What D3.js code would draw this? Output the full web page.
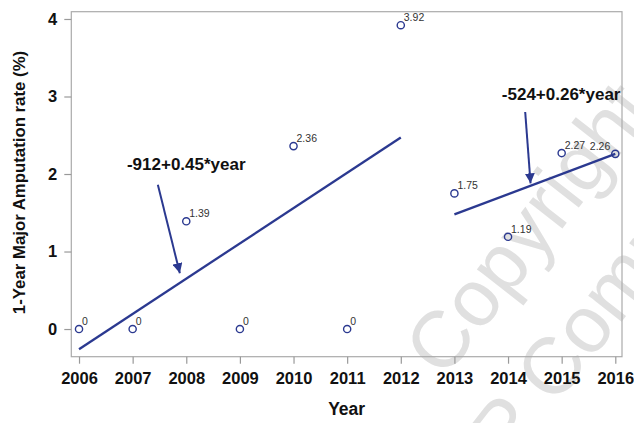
<!DOCTYPE html>
<html>
<head>
<meta charset="utf-8">
<script src="https://cdn.jsdelivr.net/npm/d3@7"></script>
<style>
  body { margin: 0; background: #fff; }
  svg { display: block; font-family: "Liberation Sans", Arial, sans-serif; }
</style>
</head>
<body>
<svg id="chart" width="634" height="423"></svg>
<script>
const years = [2006, 2007, 2008, 2009, 2010, 2011, 2012, 2013, 2014, 2015, 2016];
const rates = [0, 0, 1.39, 0, 2.36, 0, 3.92, 1.75, 1.19, 2.27, 2.26];
const rateLabels = ['0', '0', '1.39', '0', '2.36', '0', '3.92', '1.75', '1.19', '2.27', '2.26'];

// fitted segments
const fit1Years = [2006, 2012];
const fit1Values = [-0.26, 2.47];
const fit2Years = [2013, 2016];
const fit2Values = [1.48, 2.26];

const eqLabels = ['-912+0.45*year', '-524+0.26*year'];
const eqLabelYears = [2008.0, 2014.99];
const eqLabelValues = [2.05, 2.955];
const arrowFromYears = [2007.47, 2014.32];
const arrowFromValues = [1.86, 2.80];
const arrowToYears = [2007.88, 2014.42];
const arrowToValues = [0.72, 1.88];

const yTicks = [0, 1, 2, 3, 4];

const navy = '#2b3990';
const svg = d3.select('#chart');
const plotLeft = 71.3, plotRight = 622, plotTop = 11.7, plotBottom = 356.7;

const x = d3.scaleLinear().domain([2005.856, 2016.125]).range([plotLeft, plotRight]);
const y = d3.scaleLinear().domain([-0.357, 4.094]).range([plotBottom, plotTop]);

// watermark
const wm = svg.append('g')
  .attr('fill', '#e0e0e0')
  .attr('font-size', 80)
  .attr('font-family', '"Liberation Sans", Arial, sans-serif');
wm.append('text')
  .attr('transform', 'translate(444,380) rotate(-52)')
  .text('Copyright');
wm.append('text')
  .attr('transform', 'translate(433,563) rotate(-52)')
  .text('HMP Communications');

// frame
svg.append('rect')
  .attr('x', plotLeft).attr('y', plotTop)
  .attr('width', plotRight - plotLeft).attr('height', plotBottom - plotTop)
  .attr('fill', 'none')
  .attr('stroke', '#aaa')
  .attr('stroke-width', 1.2);

const yAxis = svg.append('g')
  .attr('transform', `translate(${plotLeft},0)`)
  .call(d3.axisLeft(y).tickValues(yTicks).tickFormat(d3.format('d')).tickSize(7).tickPadding(7));

const xAxis = svg.append('g')
  .attr('transform', `translate(0,${plotBottom})`)
  .call(d3.axisBottom(x).tickValues(years).tickFormat(d3.format('d')).tickSize(7).tickPadding(9));

[yAxis, xAxis].forEach(g => {
  g.select('.domain').remove();
  g.selectAll('.tick line').attr('stroke', '#999').attr('stroke-width', 1.2);
  g.selectAll('.tick text')
    .attr('fill', '#111')
    .attr('font-size', 16.5)
    .attr('font-weight', 'bold')
    .attr('font-family', '"Liberation Sans", Arial, sans-serif');
});

// axis titles
svg.append('text')
  .attr('x', (plotLeft + plotRight) / 2)
  .attr('y', 415)
  .attr('text-anchor', 'middle')
  .attr('font-size', 17.5)
  .attr('font-weight', 'bold')
  .attr('fill', '#111')
  .text('Year');

svg.append('text')
  .attr('transform', 'translate(25,182.5) rotate(-90)')
  .attr('text-anchor', 'middle')
  .attr('font-size', 16.8)
  .attr('font-weight', 'bold')
  .attr('fill', '#111')
  .text('1-Year Major Amputation rate (%)');

// fitted lines
const line = d3.line().x(d => x(d[0])).y(d => y(d[1]));
[[fit1Years, fit1Values], [fit2Years, fit2Values]].forEach(([ys, vs]) => {
  svg.append('path')
    .datum(ys.map((yr, i) => [yr, vs[i]]))
    .attr('d', line)
    .attr('fill', 'none')
    .attr('stroke', navy)
    .attr('stroke-width', 2.3);
});

// points
svg.append('g')
  .selectAll('circle')
  .data(years)
  .join('circle')
  .attr('cx', d => x(d))
  .attr('cy', (d, i) => y(rates[i]))
  .attr('r', 3.6)
  .attr('fill', 'none')
  .attr('stroke', navy)
  .attr('stroke-width', 1.4);

svg.append('g')
  .selectAll('text')
  .data(years)
  .join('text')
  .attr('x', (d, i) => i === years.length - 1 ? x(d) - 5 : x(d) + 3)
  .attr('y', (d, i) => y(rates[i]) - 4)
  .attr('text-anchor', (d, i) => i === years.length - 1 ? 'end' : 'start')
  .attr('font-size', 10.5)
  .attr('fill', '#333')
  .text((d, i) => rateLabels[i]);

// arrows
svg.append('defs').append('marker')
  .attr('id', 'head')
  .attr('viewBox', '0 0 10 10')
  .attr('refX', 10).attr('refY', 5)
  .attr('markerWidth', 5).attr('markerHeight', 5)
  .attr('markerUnits', 'strokeWidth')
  .attr('orient', 'auto')
  .append('path')
  .attr('d', 'M0,0 L10,5 L0,10 Z')
  .attr('fill', navy);

eqLabels.forEach((lbl, i) => {
  svg.append('line')
    .attr('x1', x(arrowFromYears[i])).attr('y1', y(arrowFromValues[i]))
    .attr('x2', x(arrowToYears[i])).attr('y2', y(arrowToValues[i]))
    .attr('stroke', navy)
    .attr('stroke-width', 2)
    .attr('marker-end', 'url(#head)');
  svg.append('text')
    .attr('x', x(eqLabelYears[i]))
    .attr('y', y(eqLabelValues[i]))
    .attr('text-anchor', 'middle')
    .attr('font-size', 17)
    .attr('font-weight', 'bold')
    .attr('fill', '#111')
    .text(lbl);
});
</script>
</body>
</html>
